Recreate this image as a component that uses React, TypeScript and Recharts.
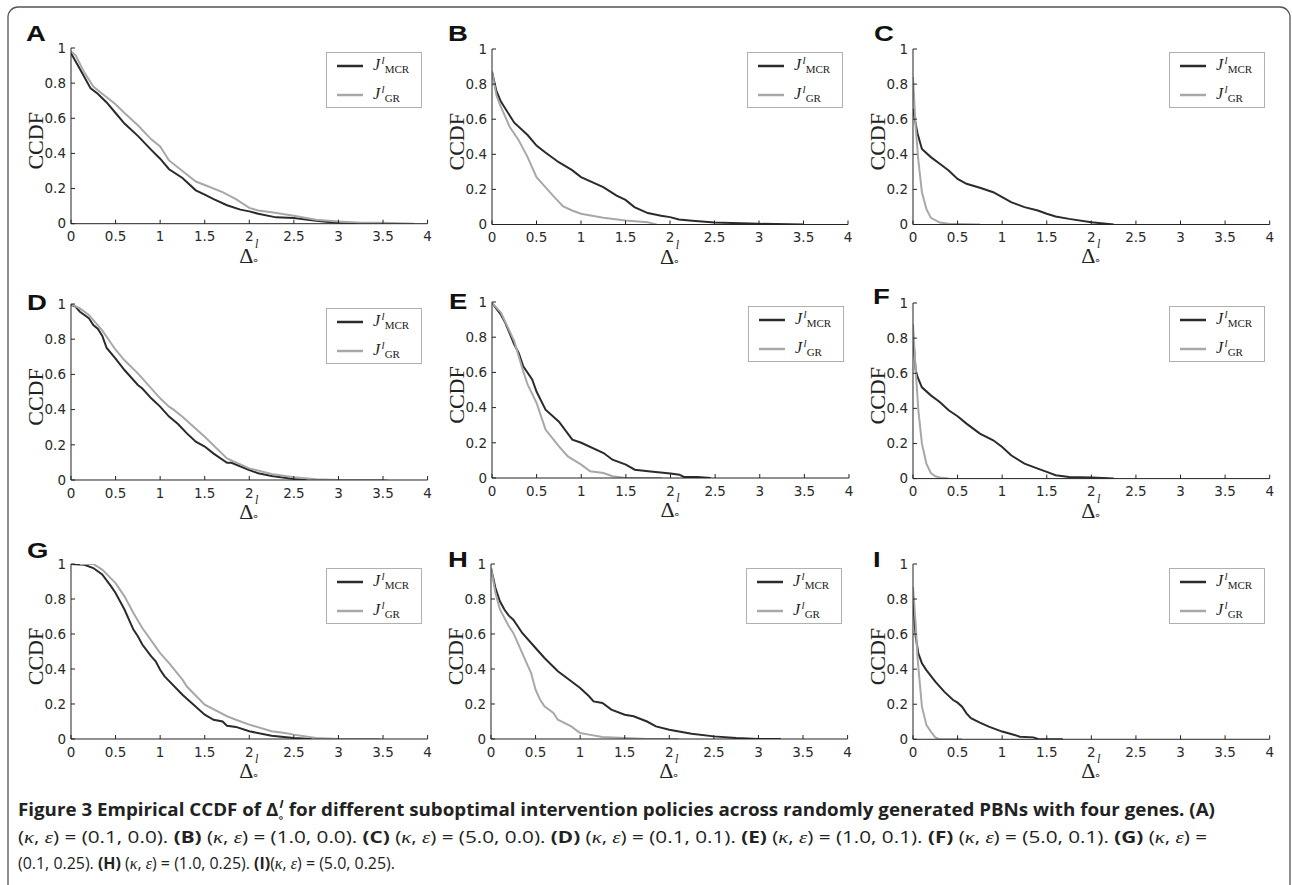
import React from 'react';
import { LineChart, Line, XAxis, YAxis, Legend } from 'recharts';

type Pt = [number, number];

const X_TICKS = [0, 0.5, 1, 1.5, 2, 2.5, 3, 3.5, 4];
const Y_TICKS = [0, 0.2, 0.4, 0.6, 0.8, 1];
const PANEL_LETTERS = ['A', 'B', 'C', 'D', 'E', 'F', 'G', 'H', 'I'];
const SERIES_SUBS = ['MCR', 'GR'];

const mcrA: Pt[] = [[0,0.97],[0.1,0.88],[0.22,0.77],[0.3,0.74],[0.4,0.69],[0.5,0.63],[0.6,0.57],[0.75,0.5],[0.9,0.42],[1.0,0.37],[1.1,0.31],[1.25,0.26],[1.4,0.19],[1.5,0.165],[1.6,0.14],[1.75,0.105],[1.9,0.08],[2.0,0.07],[2.1,0.057],[2.3,0.036],[2.5,0.032],[2.75,0.017],[3.0,0.004],[3.2,0]];
const grA: Pt[] = [[0,0.98],[0.05,0.96],[0.15,0.86],[0.25,0.78],[0.35,0.74],[0.5,0.68],[0.6,0.63],[0.75,0.56],[0.9,0.48],[1.0,0.44],[1.1,0.36],[1.25,0.3],[1.4,0.24],[1.5,0.22],[1.7,0.18],[1.85,0.14],[2.0,0.09],[2.1,0.075],[2.25,0.065],[2.5,0.045],[2.75,0.023],[3.0,0.013],[3.25,0.006],[3.5,0.005],[3.85,0]];
const mcrB: Pt[] = [[0,0.87],[0.05,0.76],[0.1,0.7],[0.25,0.58],[0.4,0.51],[0.5,0.45],[0.6,0.41],[0.75,0.355],[0.9,0.31],[1.0,0.27],[1.25,0.213],[1.4,0.165],[1.5,0.14],[1.6,0.099],[1.75,0.065],[1.9,0.05],[2.0,0.042],[2.1,0.028],[2.25,0.022],[2.5,0.011],[3.0,0.004],[3.5,0]];
const grB: Pt[] = [[0,0.87],[0.05,0.735],[0.1,0.67],[0.2,0.555],[0.3,0.48],[0.4,0.384],[0.5,0.27],[0.6,0.213],[0.7,0.156],[0.8,0.103],[0.9,0.08],[1.0,0.061],[1.25,0.038],[1.5,0.023],[1.75,0.013],[1.85,0]];
const mcrC: Pt[] = [[0,0.66],[0.02,0.6],[0.05,0.52],[0.1,0.43],[0.2,0.384],[0.3,0.346],[0.4,0.308],[0.5,0.26],[0.6,0.232],[0.75,0.209],[0.9,0.184],[1.0,0.156],[1.1,0.127],[1.25,0.099],[1.4,0.08],[1.5,0.061],[1.6,0.046],[1.75,0.032],[2.0,0.013],[2.25,0]];
const grC: Pt[] = [[0,0.84],[0.03,0.555],[0.06,0.365],[0.1,0.184],[0.15,0.089],[0.2,0.038],[0.3,0.011],[0.4,0.004],[0.75,0]];
const mcrD: Pt[] = [[0,0.995],[0.05,0.985],[0.1,0.956],[0.2,0.92],[0.25,0.88],[0.3,0.86],[0.35,0.82],[0.4,0.75],[0.5,0.69],[0.6,0.625],[0.75,0.54],[0.8,0.52],[0.9,0.464],[1.0,0.417],[1.1,0.36],[1.2,0.318],[1.3,0.265],[1.4,0.218],[1.5,0.19],[1.6,0.15],[1.75,0.098],[1.8,0.098],[2.0,0.057],[2.1,0.038],[2.25,0.023],[2.5,0.006],[2.65,0]];
const grD: Pt[] = [[0,1],[0.1,0.975],[0.2,0.938],[0.35,0.85],[0.5,0.74],[0.6,0.68],[0.75,0.606],[1.0,0.464],[1.1,0.417],[1.15,0.4],[1.25,0.36],[1.5,0.246],[1.75,0.123],[2.0,0.066],[2.25,0.034],[2.5,0.015],[2.75,0.004],[3.0,0],[3.55,0]];
const mcrE: Pt[] = [[0,0.995],[0.1,0.928],[0.15,0.88],[0.25,0.758],[0.3,0.71],[0.35,0.634],[0.45,0.56],[0.5,0.49],[0.6,0.388],[0.75,0.32],[0.9,0.218],[1.0,0.2],[1.25,0.142],[1.35,0.104],[1.5,0.076],[1.6,0.047],[1.75,0.038],[2.0,0.025],[2.1,0.019],[2.15,0.006],[2.3,0.006],[2.45,0]];
const grE: Pt[] = [[0,0.995],[0.1,0.94],[0.25,0.777],[0.3,0.69],[0.35,0.606],[0.4,0.53],[0.5,0.426],[0.55,0.35],[0.6,0.275],[0.75,0.18],[0.85,0.123],[1.0,0.076],[1.1,0.038],[1.25,0.028],[1.35,0.01],[1.5,0],[1.9,0]];
const mcrF: Pt[] = [[0,0.82],[0.03,0.617],[0.05,0.58],[0.1,0.52],[0.2,0.474],[0.3,0.436],[0.4,0.389],[0.5,0.355],[0.6,0.313],[0.75,0.256],[0.9,0.218],[1.0,0.18],[1.1,0.133],[1.25,0.085],[1.4,0.057],[1.5,0.038],[1.6,0.019],[1.75,0.009],[2.0,0.006],[2.25,0]];
const grF: Pt[] = [[0,0.88],[0.03,0.617],[0.06,0.39],[0.1,0.2],[0.15,0.085],[0.2,0.032],[0.25,0.013],[0.3,0.006],[0.4,0]];
const mcrG: Pt[] = [[0,1],[0.15,0.996],[0.25,0.977],[0.35,0.94],[0.45,0.872],[0.5,0.834],[0.6,0.74],[0.7,0.625],[0.75,0.587],[0.8,0.54],[0.9,0.472],[0.95,0.444],[1.0,0.396],[1.05,0.358],[1.25,0.253],[1.5,0.139],[1.6,0.11],[1.7,0.1],[1.75,0.076],[1.85,0.069],[2.0,0.044],[2.25,0.019],[2.5,0.006],[2.7,0]];
const grG: Pt[] = [[0.1,1],[0.25,1],[0.35,0.968],[0.5,0.891],[0.6,0.815],[0.7,0.72],[0.8,0.634],[1.0,0.491],[1.1,0.434],[1.25,0.339],[1.3,0.3],[1.5,0.196],[1.75,0.13],[1.85,0.11],[2.0,0.082],[2.25,0.044],[2.4,0.034],[2.5,0.025],[2.75,0.006],[3.0,0],[3.47,0]];
const mcrH: Pt[] = [[0,0.977],[0.05,0.863],[0.1,0.787],[0.15,0.74],[0.2,0.705],[0.25,0.682],[0.3,0.644],[0.35,0.606],[0.5,0.52],[0.6,0.463],[0.75,0.387],[0.9,0.33],[1.0,0.291],[1.1,0.244],[1.15,0.215],[1.25,0.206],[1.35,0.168],[1.5,0.139],[1.6,0.13],[1.75,0.1],[1.85,0.072],[2.0,0.053],[2.25,0.03],[2.5,0.015],[2.75,0.006],[3.0,0],[3.25,0]];
const grH: Pt[] = [[0,0.977],[0.05,0.834],[0.1,0.74],[0.2,0.644],[0.25,0.606],[0.3,0.549],[0.4,0.434],[0.45,0.377],[0.5,0.282],[0.55,0.225],[0.6,0.187],[0.7,0.149],[0.75,0.11],[0.9,0.072],[1.0,0.034],[1.1,0.025],[1.25,0.011],[1.5,0.006],[1.75,0],[2.1,0]];
const mcrI: Pt[] = [[0,0.81],[0.03,0.586],[0.06,0.49],[0.1,0.433],[0.15,0.395],[0.25,0.329],[0.35,0.272],[0.45,0.224],[0.5,0.209],[0.55,0.186],[0.6,0.148],[0.65,0.12],[0.75,0.095],[0.85,0.072],[1.0,0.044],[1.1,0.03],[1.2,0.015],[1.35,0.011],[1.4,0.002],[1.68,0]];
const grI: Pt[] = [[0,0.87],[0.03,0.66],[0.05,0.47],[0.1,0.186],[0.15,0.082],[0.2,0.044],[0.25,0.011],[0.3,0],[0.55,0]];

const MCR_SERIES = [mcrA, mcrB, mcrC, mcrD, mcrE, mcrF, mcrG, mcrH, mcrI];
const GR_SERIES = [grA, grB, grC, grD, grE, grF, grG, grH, grI];

const toRows = (pts: Pt[]) => pts.map(([x, y]) => ({ x, y }));

// layout (plot rectangles in page pixels, panel letter positions)
const LAYOUT = [
  { left: 70.7, top: 48.3, w: 356.6, h: 175.7, lx: 26, ly: 41 },
  { left: 492.3, top: 48.5, w: 356, h: 175.5, lx: 448, ly: 41 },
  { left: 913.3, top: 48.5, w: 356.7, h: 175.5, lx: 874, ly: 41 },
  { left: 70.7, top: 304, w: 356.6, h: 176, lx: 27, ly: 310 },
  { left: 492.3, top: 302.3, w: 357, h: 176, lx: 449, ly: 309 },
  { left: 913.3, top: 302.7, w: 356.7, h: 175.6, lx: 873, ly: 304 },
  { left: 70.7, top: 564.3, w: 356.6, h: 175, lx: 27, ly: 558 },
  { left: 490.7, top: 564.3, w: 356.6, h: 175, lx: 448, ly: 567 },
  { left: 913.3, top: 564, w: 356.7, h: 175.3, lx: 873, ly: 567 },
];

const ML = 70;
const MT = 12;
const MR = 10;
const MB = 50;
const DARK = '#2b2b2b';
const LIGHT = '#a8a8a8';
const AXIS = '#222';
const TICK_FONT = { fill: '#2a2a2a', fontSize: 13.5, fontFamily: 'DejaVu Sans' };

const JLabel = ({ x, y, sub }: { x: number; y: number; sub: string }) => (
  <text x={x} y={y} fill="#222" fontFamily="Liberation Serif" fontStyle="italic" fontSize={16}>
    J
    <tspan dx={1.5} dy={-6} fontSize={11}>l</tspan>
    <tspan dx={0} dy={9} fontSize={11} fontStyle="normal">{sub}</tspan>
  </text>
);

const LegendBox = () => (
  <div style={{ width: 96, height: 56, border: '1px solid #b0b0b0', background: '#fff', boxSizing: 'border-box', position: 'relative' }}>
    <svg width={94} height={54} style={{ position: 'absolute', left: 0, top: 0, overflow: 'visible' }}>
      <line x1={10} x2={36} y1={13} y2={13} stroke={DARK} strokeWidth={2.5} />
      <line x1={10} x2={36} y1={42} y2={42} stroke={LIGHT} strokeWidth={2.5} />
      <JLabel x={46} y={17} sub={SERIES_SUBS[0]} />
      <JLabel x={46} y={46} sub={SERIES_SUBS[1]} />
    </svg>
  </div>
);

const Panel = ({ idx }: { idx: number }) => {
  const p = LAYOUT[idx];
  const W = ML + p.w + MR;
  const H = MT + p.h + MB;
  const cx = ML + p.w / 2;
  const bottom = MT + p.h;
  const xLabel = () => (
    <text x={cx - 10} y={bottom + 39} fill="#222" fontFamily="Liberation Serif" fontSize={22}>
      Δ
      <tspan dx={1.5} dy={-15} fontStyle="italic" fontSize={12}>l</tspan>
      <tspan dx={-6.5} dy={16} fontFamily="DejaVu Sans" fontSize={11}>∘</tspan>
    </text>
  );
  const yLabel = () => (
    <text
      transform={`translate(${ML - 35 + 7.3}, ${MT + p.h / 2 + 5}) rotate(-90)`}
      textAnchor="middle"
      fontFamily="Liberation Serif"
      fontSize={22}
      fill="#222"
    >
      CCDF
    </text>
  );
  return (
    <div style={{ position: 'absolute', left: p.left - ML, top: p.top - MT, width: W, height: H }}>
      <LineChart width={W} height={H} margin={{ top: MT, right: MR, bottom: MB - 30, left: ML - 40 }}>
        <XAxis
          xAxisId="b"
          type="number"
          dataKey="x"
          domain={[0, 4]}
          ticks={X_TICKS}
          interval={0}
          allowDataOverflow
          height={30}
          tickSize={-4}
          tickMargin={12}
          stroke={AXIS}
          axisLine={{ stroke: AXIS }}
          tickLine={{ stroke: AXIS }}
          tick={TICK_FONT}
          label={{ content: xLabel }}
        />
        <XAxis
          xAxisId="t"
          orientation="top"
          type="number"
          dataKey="x"
          domain={[0, 4]}
          ticks={X_TICKS}
          interval={0}
          height={0}
          tickSize={-4}
          tick={false}
          stroke={AXIS}
          axisLine={{ stroke: AXIS }}
          tickLine={{ stroke: AXIS }}
        />
        <YAxis
          yAxisId="l"
          type="number"
          domain={[0, 1]}
          ticks={Y_TICKS}
          interval={0}
          allowDataOverflow
          width={40}
          tickSize={-4}
          tickMargin={9}
          stroke={AXIS}
          axisLine={{ stroke: AXIS }}
          tickLine={{ stroke: AXIS }}
          tick={TICK_FONT}
          label={{ content: yLabel }}
        />
        <YAxis
          yAxisId="r"
          orientation="right"
          type="number"
          domain={[0, 1]}
          ticks={Y_TICKS}
          interval={0}
          width={0}
          tickSize={-4}
          tick={false}
          stroke={AXIS}
          axisLine={{ stroke: AXIS }}
          tickLine={{ stroke: AXIS }}
        />
        <Line
          xAxisId="b"
          yAxisId="l"
          data={toRows(MCR_SERIES[idx])}
          dataKey="y"
          name="MCR"
          type="linear"
          stroke={DARK}
          strokeWidth={2}
          dot={false}
          isAnimationActive={false}
        />
        <Line
          xAxisId="b"
          yAxisId="l"
          data={toRows(GR_SERIES[idx])}
          dataKey="y"
          name="GR"
          type="linear"
          stroke={LIGHT}
          strokeWidth={2}
          dot={false}
          isAnimationActive={false}
        />
        <Legend
          layout="vertical"
          align="center"
          verticalAlign="middle"
          content={() => <LegendBox />}
          wrapperStyle={{ position: 'absolute', left: ML + p.w - 101, top: MT + 3.5, width: 96, height: 56 }}
        />
      </LineChart>
    </div>
  );
};

const KE = () => (
  <>
    <tspan>(</tspan>
    <tspan fontFamily="Liberation Serif" fontStyle="italic">κ</tspan>
    <tspan>, </tspan>
    <tspan fontFamily="Liberation Serif" fontStyle="italic">ε</tspan>
    <tspan>) = </tspan>
  </>
);

const B = ({ children }: { children: React.ReactNode }) => <tspan fontWeight={700}>{children}</tspan>;

const Overlay = () => (
  <svg width={1292} height={885} style={{ position: 'absolute', left: 0, top: 0 }}>
    <rect x={8} y={7} width={1282} height={920} rx={10} fill="none" stroke="#555" strokeWidth={1.3} />
    {LAYOUT.map((p, i) => (
      <text
        key={i}
        transform={`translate(${p.lx}, ${p.ly}) scale(1.25, 1)`}
        fontFamily="Liberation Sans"
        fontWeight={700}
        fontSize={22}
        fill="#111"
      >
        {PANEL_LETTERS[i]}
      </text>
    ))}
    <g fill="#222">
      <text x={18} y={816} fontFamily="Open Sans" fontWeight={700} fontSize={17} textLength={1197} lengthAdjust="spacingAndGlyphs">
        Figure 3 Empirical CCDF of Δ
        <tspan dx={1} dy={-8} fontStyle="italic" fontSize={11}>l</tspan>
        <tspan dx={-5} dy={13} fontFamily="DejaVu Sans" fontSize={10}>∘</tspan>
        <tspan dx={4} dy={-5}>for different suboptimal intervention policies across randomly generated PBNs with four genes. (A)</tspan>
      </text>
      <text x={18} y={843} fontFamily="Open Sans" fontSize={16} textLength={1189} lengthAdjust="spacingAndGlyphs">
        <KE />(0.1, 0.0). <B>(B)</B> <KE />(1.0, 0.0). <B>(C)</B> <KE />(5.0, 0.0). <B>(D)</B> <KE />(0.1, 0.1).{' '}
        <B>(E)</B> <KE />(1.0, 0.1). <B>(F)</B> <KE />(5.0, 0.1). <B>(G)</B> (<tspan fontFamily="Liberation Serif" fontStyle="italic">κ</tspan>, <tspan fontFamily="Liberation Serif" fontStyle="italic">ε</tspan>) =
      </text>
      <text x={18} y={869} fontFamily="Open Sans" fontSize={16} textLength={377} lengthAdjust="spacingAndGlyphs">
        (0.1, 0.25). <B>(H)</B> <KE />(1.0, 0.25). <B>(I)</B><KE />(5.0, 0.25).
      </text>
    </g>
  </svg>
);

export default function App() {
  return (
    <div style={{ position: 'absolute', left: 0, top: 0, width: 1292, height: 885, background: '#fff', overflow: 'hidden' }}>
      <Overlay />
      {LAYOUT.map((_, i) => (
        <Panel key={i} idx={i} />
      ))}
    </div>
  );
}
